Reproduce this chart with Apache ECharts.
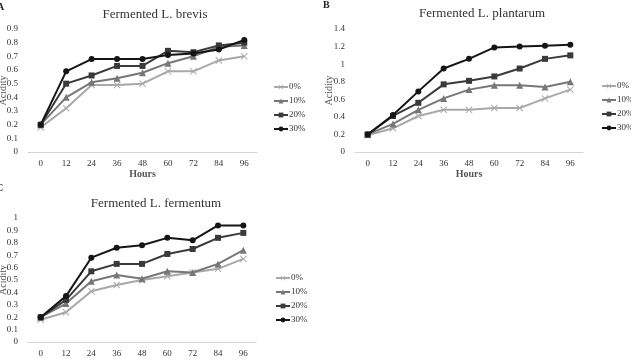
<!DOCTYPE html>
<html>
<head>
<meta charset="utf-8">
<script src="https://cdn.jsdelivr.net/npm/echarts@6/dist/echarts.min.js"></script>
<style>
  html, body { margin: 0; padding: 0; background: #fff; }
  #chart { width: 631px; height: 359px; }
</style>
</head>
<body>
<div id="chart"></div>
<script>
const hours = ['0', '12', '24', '36', '48', '60', '72', '84', '96'];
const levels = ['0%', '10%', '20%', '30%'];

// Fermented L. brevis
const brevis0 = [0.18, 0.32, 0.49, 0.49, 0.50, 0.59, 0.59, 0.67, 0.70];
const brevis10 = [0.20, 0.40, 0.51, 0.54, 0.58, 0.65, 0.70, 0.77, 0.78];
const brevis20 = [0.20, 0.50, 0.56, 0.63, 0.63, 0.74, 0.73, 0.78, 0.80];
const brevis30 = [0.20, 0.59, 0.68, 0.68, 0.68, 0.71, 0.72, 0.75, 0.82];

// Fermented L. plantarum
const plantarum0 = [0.19, 0.27, 0.41, 0.48, 0.48, 0.50, 0.50, 0.61, 0.71];
const plantarum10 = [0.20, 0.32, 0.48, 0.61, 0.71, 0.76, 0.76, 0.74, 0.80];
const plantarum20 = [0.20, 0.41, 0.56, 0.77, 0.81, 0.86, 0.95, 1.06, 1.10];
const plantarum30 = [0.20, 0.42, 0.69, 0.95, 1.06, 1.19, 1.20, 1.21, 1.22];

// Fermented L. fermentum
const fermentum0 = [0.18, 0.24, 0.41, 0.46, 0.50, 0.53, 0.56, 0.59, 0.67];
const fermentum10 = [0.20, 0.31, 0.49, 0.54, 0.51, 0.57, 0.56, 0.63, 0.74];
const fermentum20 = [0.20, 0.34, 0.57, 0.63, 0.63, 0.71, 0.75, 0.84, 0.88];
const fermentum30 = [0.20, 0.37, 0.68, 0.76, 0.78, 0.84, 0.82, 0.94, 0.94];

const panels = [
  { title: 'Fermented L. brevis', data: [brevis0, brevis10, brevis20, brevis30], max: 0.9, interval: 0.1 },
  { title: 'Fermented L. plantarum', data: [plantarum0, plantarum10, plantarum20, plantarum30], max: 1.4, interval: 0.2 },
  { title: 'Fermented L. fermentum', data: [fermentum0, fermentum10, fermentum20, fermentum30], max: 1, interval: 0.1 }
];

const serif = 'Liberation Serif';
const colors = ['#a8a8a8', '#777777', '#3a3a3a', '#151515'];
const crossPath = 'path://M0,1L1,0L5,4L9,0L10,1L6,5L10,9L9,10L5,6L1,10L0,9L4,5Z';
const symbols = [crossPath, 'triangle', 'rect', 'circle'];
const symbolSizes = [7, 7, 6, 6];

const grids = [
  { left: 28, top: 29, width: 229, height: 123, outerBoundsMode: 'none' },
  { left: 355, top: 29, width: 228, height: 123, outerBoundsMode: 'none' },
  { left: 28, top: 218, width: 228, height: 124, outerBoundsMode: 'none' }
];
const titlePos = [
  { x: 150, y: 3 },
  { x: 477, y: 2 },
  { x: 151, y: 192 }
];
const legendPos = [
  { left: 268, top: 77 },
  { left: 596, top: 76 },
  { left: 270, top: 268 }
];

const chart = echarts.init(document.getElementById('chart'));

const series = [];
panels.forEach((p, i) => {
  p.data.forEach((vals, k) => {
    series.push({
      name: levels[k],
      type: 'line',
      xAxisIndex: i,
      yAxisIndex: i,
      data: vals,
      symbol: symbols[k],
      symbolSize: symbolSizes[k],
      color: colors[k],
      lineStyle: { width: 2, color: colors[k] },
      itemStyle: { color: colors[k] },
      z: 2 + k
    });
  });
});

const option = {
  animation: false,
  backgroundColor: '#fff',
  title: panels.map((p, i) => ({
    text: p.title,
    left: titlePos[i].x,
    top: titlePos[i].y,
    textAlign: 'center',
    textStyle: { fontFamily: serif, fontSize: 13, fontWeight: 'normal', color: '#333' }
  })),
  legend: panels.map((p, i) => ({
    data: levels,
    orient: 'vertical',
    left: legendPos[i].left,
    top: legendPos[i].top,
    itemWidth: 14,
    itemHeight: 6,
    itemGap: 4,
    textStyle: { fontFamily: serif, fontSize: 9, color: '#333', lineHeight: 10, padding: [0, 0, 0, -4] }
  })),
  grid: grids,
  xAxis: grids.map((g, i) => ({
    type: 'category',
    gridIndex: i,
    data: hours,
    boundaryGap: true,
    name: 'Hours',
    nameLocation: 'middle',
    nameGap: 17,
    nameMoveOverlap: false,
    nameTextStyle: { fontFamily: serif, fontSize: 10, fontWeight: 'bold', color: '#555' },
    axisLine: { lineStyle: { color: '#d4d4d4', width: 1 } },
    axisTick: { show: false },
    axisLabel: { fontFamily: serif, fontSize: 9, color: '#333', margin: 7 }
  })),
  yAxis: panels.map((p, i) => ({
    type: 'value',
    gridIndex: i,
    min: 0,
    max: p.max,
    interval: p.interval,
    name: 'Acidity',
    nameLocation: 'middle',
    nameGap: i === 1 ? 21 : 20,
    nameMoveOverlap: false,
    nameTextStyle: { fontFamily: serif, fontSize: 10, color: '#555' },
    axisLine: { show: false },
    axisTick: { show: false },
    splitLine: { show: false },
    axisLabel: { fontFamily: serif, fontSize: 9, color: '#333', margin: 10 }
  })),
  graphic: [
    { type: 'text', left: -3, top: 2, style: { text: 'A', font: 'bold 10px "Liberation Serif"', fill: '#222' } },
    { type: 'text', left: 323, top: 0, style: { text: 'B', font: 'bold 10px "Liberation Serif"', fill: '#222' } },
    { type: 'text', left: -4, top: 183, style: { text: 'C', font: 'bold 10px "Liberation Serif"', fill: '#222' } }
  ],
  series: series
};

chart.setOption(option);
</script>
</body>
</html>
